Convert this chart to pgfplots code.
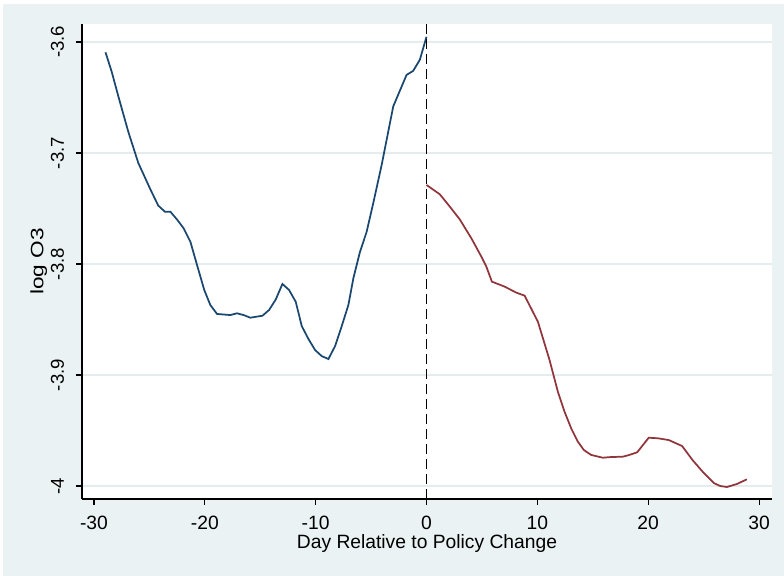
\documentclass[border=0pt]{standalone}
\usepackage{pgfplots}
\pgfplotsset{compat=1.18}
\usepackage{fontspec}
\setmainfont{Liberation Sans}
\newfontfamily\ylfont[FakeStretch=1.26]{Liberation Sans}
\definecolor{bgc}{RGB}{234,242,243}
\definecolor{gridc}{RGB}{228,236,238}
\definecolor{navy}{RGB}{26,71,111}
\definecolor{maroon}{RGB}{144,53,59}
\begin{document}
\begin{tikzpicture}
\useasboundingbox (0,0) rectangle (588bp,432bp);
\fill[bgc] (2.25bp,0) rectangle (588bp,429bp);
\begin{axis}[
  at={(61.5bp,57.75bp)}, anchor=south west,
  scale only axis, width=517.5bp, height=356.25bp,
  xmin=-31.08, xmax=31.17, ymin=-4.0117, ymax=-3.5838,
  axis background/.style={fill=white},
  axis x line*=bottom, axis y line*=left,
  axis line style={black, line width=0.9bp, -},
  xtick={-30,-20,-10,0,10,20,30},
  xticklabels={-30,-20,-10,0,10,20,30},
  ytick={-4,-3.9,-3.8,-3.7,-3.6},
  yticklabels={-4,-3.9,-3.8,-3.7,-3.6},
  tick align=outside, major tick length=4.5bp,
  tick style={black, line width=0.8bp},
  minor tick num=0,
  ymajorgrids, xmajorgrids=false,
  major grid style={gridc, line width=1.1bp},
  xticklabel style={font=\fontsize{14.5}{17}\selectfont, anchor=north, yshift=-4.5bp},
  yticklabel style={font=\fontsize{14}{17}\selectfont, rotate=90, anchor=south, yshift=5.5bp},
  xlabel={Day Relative to Policy Change},
  ylabel={\ylfont log O3},
  xlabel style={font=\fontsize{14.5}{17}\selectfont, yshift=3bp},
  ylabel style={font=\fontsize{13.5}{16}\selectfont, yshift=-4bp},
  clip=false,
]
\addplot[navy, line width=1.3bp] coordinates {
(-28.96,-3.6093) (-28.4,-3.6268) (-27.8,-3.649) (-26.9,-3.681) (-26,-3.709)
(-24.9,-3.733) (-24.2,-3.7474) (-23.6,-3.7529) (-23.1,-3.753) (-22.5,-3.760)
(-21.9,-3.768) (-21.3,-3.780) (-20.7,-3.801) (-20.05,-3.8234) (-19.5,-3.837)
(-18.9,-3.845) (-17.7,-3.846) (-17.1,-3.8444) (-16.5,-3.846) (-15.9,-3.8484)
(-14.8,-3.8466) (-14.2,-3.8414) (-13.6,-3.832) (-13,-3.818) (-12.4,-3.8234)
(-11.8,-3.834) (-11.25,-3.856) (-10.65,-3.8676) (-10.05,-3.8775) (-9.45,-3.883)
(-8.85,-3.8856) (-8.25,-3.874) (-7.65,-3.856) (-7.05,-3.837) (-6.6,-3.813)
(-6,-3.789) (-5.4,-3.771) (-4.8,-3.745) (-4.05,-3.711) (-3,-3.658)
(-1.8,-3.6297) (-1.2,-3.626) (-0.6,-3.616) (0,-3.5953)
};
\addplot[maroon, line width=1.3bp] coordinates {
(0,-3.7288) (1.2,-3.7372) (2.1,-3.7483) (3,-3.7598) (4.05,-3.7769)
(4.95,-3.7934) (5.4,-3.8024) (5.9,-3.8159) (7.05,-3.8204) (8.1,-3.8258)
(8.85,-3.8285) (10.05,-3.852) (11.1,-3.8865) (11.85,-3.915) (12.45,-3.933)
(13.05,-3.948) (13.65,-3.960) (14.2,-3.9676) (14.85,-3.972) (15.9,-3.9745)
(16.65,-3.9739) (17.7,-3.9736) (18.3,-3.972) (19,-3.9697) (20.05,-3.9565)
(20.87,-3.957) (21.86,-3.9586) (23.06,-3.964) (24,-3.9766) (24.9,-3.987)
(25.95,-3.9975) (26.5,-4.0) (27.1,-4.0009) (28,-3.9982) (28.9,-3.994)
};
\addplot[black, line width=1.4bp, dash pattern=on 7.5bp off 3.75bp] coordinates {(0,-4.0117) (0,-3.5838)};
\end{axis}
\end{tikzpicture}
\end{document}
